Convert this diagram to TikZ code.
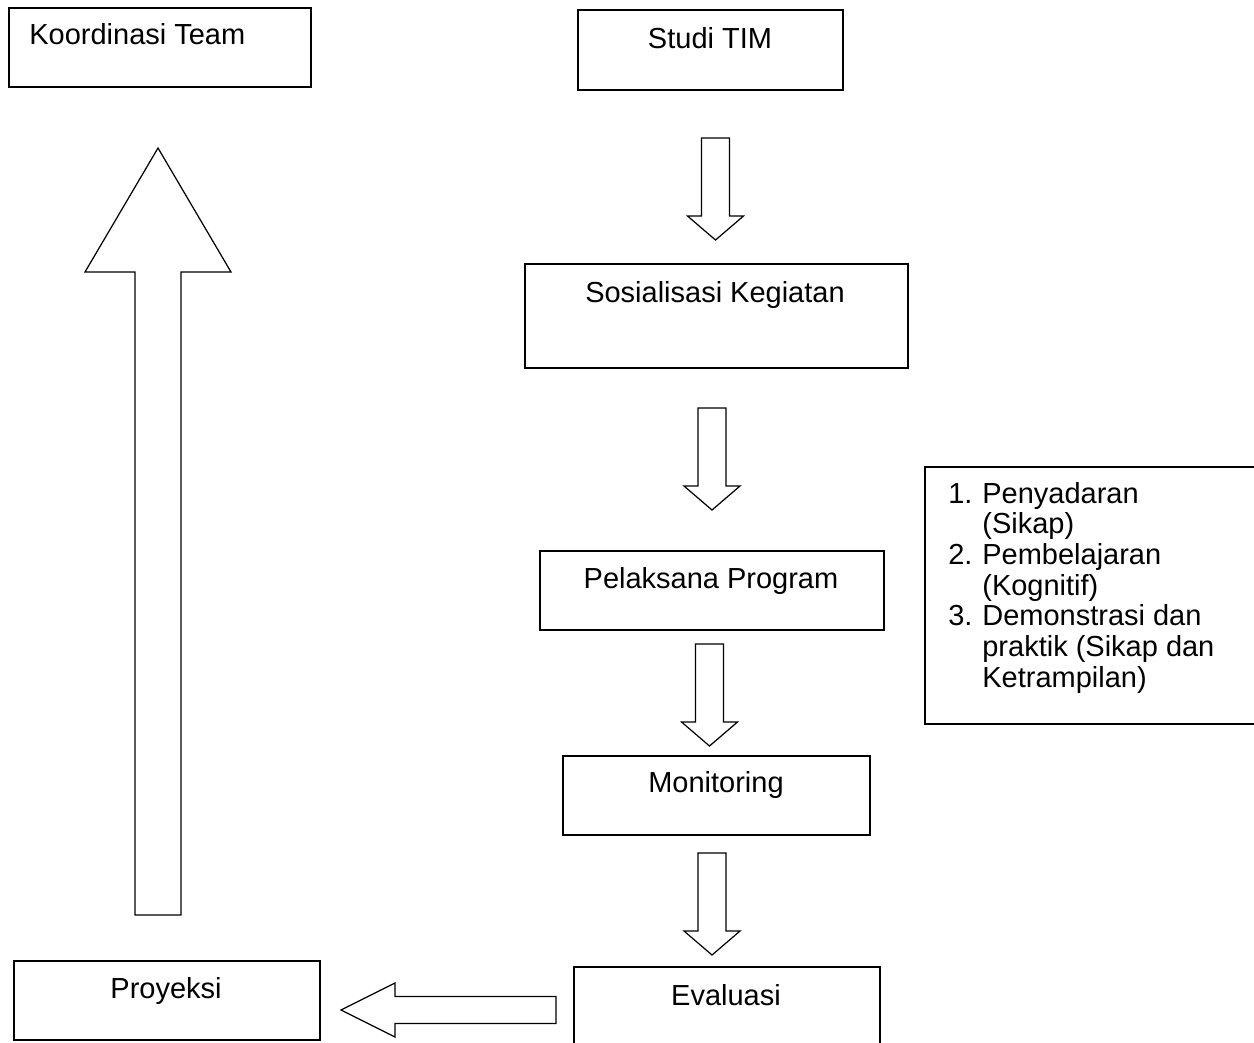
\documentclass[tikz,border=0pt]{standalone}
\usepackage{fontspec}
\setmainfont{Liberation Sans}
\usepackage{tikz}
\usetikzlibrary{positioning}
\tikzset{
  box/.style={draw, line width=1pt, rectangle, inner sep=0pt, anchor=north west},
  txt/.style={inner sep=0pt, font=\fontsize{16.5}{17.5}\selectfont},
  blockarr/.style={draw, line width=0.7pt, line join=miter}
}

\begin{document}
\begin{tikzpicture}[x=0.02cm, y=-0.02cm]
  \useasboundingbox (0,0) rectangle (1254,1042);
  \clip (0,0) rectangle (1254,1042);
  % boxes
  \node[box, minimum width=6.04cm, minimum height=1.58cm] (koord) at (8,7) {};
  \node[box, minimum width=5.30cm, minimum height=1.60cm] (studi) at (577,9) {};
  \node[box, minimum width=7.66cm, minimum height=2.08cm] (sosial) at (524,263) {};
  \node[box, minimum width=6.88cm, minimum height=1.58cm] (pelaksana) at (539,550) {};
  \node[box, minimum width=6.14cm, minimum height=1.58cm] (monitor) at (562,755) {};
  \node[box, minimum width=6.12cm, minimum height=2.40cm] (evaluasi) at (573,966) {};
  \node[box, minimum width=6.12cm, minimum height=1.58cm] (proyeksi) at (13,960) {};
  \node[box, minimum width=6.80cm, minimum height=5.14cm] (tahap) at (924,466) {};
  % labels
  \node[txt, anchor=base west] (koordtxt) at (29,44) {Koordinasi Team};
  \node[txt, anchor=base] (studitxt) at (710,48) {Studi TIM};
  \node[txt, anchor=base] (sosialtxt) at (715,302) {Sosialisasi Kegiatan};
  \node[txt, anchor=base] (pelaksanatxt) at (711,588) {Pelaksana Program};
  \node[txt, anchor=base] (monitortxt) at (716,792) {Monitoring};
  \node[txt, anchor=base] (evaluasitxt) at (726,1005) {Evaluasi};
  \node[txt, anchor=base] (proyeksitxt) at (166,998) {Proyeksi};
  \node[txt, anchor=base west] (tahaptxt) at (948,503) {%
    \begin{tabular}[t]{@{}l@{\hspace{5.6pt}}l@{}}
      1. & Penyadaran\\
         & (Sikap)\\
      2. & Pembelajaran\\
         & (Kognitif)\\
      3. & Demonstrasi dan\\
         & praktik (Sikap dan\\
         & Ketrampilan)
    \end{tabular}};
  % block arrows
  \foreach \x/\y in {715.5/138, 712/408, 709.5/644, 712/853}
    \draw[blockarr, shift={(\x,\y)}] (-14,0) -- (14,0) -- (14,78) -- (28,78)
      -- (0,102) -- (-28,78) -- (-14,78) -- cycle;
  \draw[blockarr] (135,915) -- (181,915) -- (181,272) -- (231,272) -- (158,148)
    -- (85,272) -- (135,272) -- cycle;
  \draw[blockarr] (556,996.5) -- (395,996.5) -- (395,983) -- (341,1010)
    -- (395,1037) -- (395,1023.5) -- (556,1023.5) -- cycle;
\end{tikzpicture}
\end{document}
